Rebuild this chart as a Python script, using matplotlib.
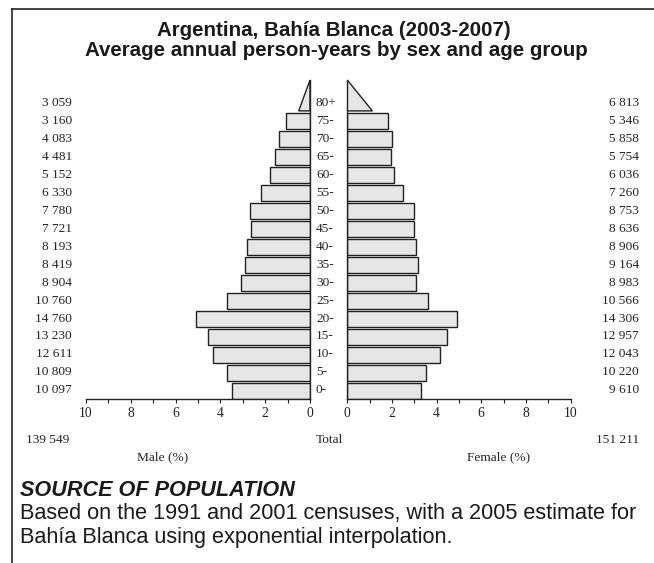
import matplotlib
matplotlib.use("Agg")
import matplotlib.pyplot as plt
import matplotlib.transforms as mtransforms
from matplotlib.patches import Polygon
from matplotlib.lines import Line2D

age_groups = ["0-", "5-", "10-", "15-", "20-", "25-", "30-", "35-", "40-",
              "45-", "50-", "55-", "60-", "65-", "70-", "75-", "80+"]
male = [10097, 10809, 12611, 13230, 14760, 10760, 8904, 8419, 8193,
        7721, 7780, 6330, 5152, 4481, 4083, 3160, 3059]
female = [9610, 10220, 12043, 12957, 14306, 10566, 8983, 9164, 8906,
          8636, 8753, 7260, 6036, 5754, 5858, 5346, 6813]
male_total_label = "139 549"
female_total_label = "151 211"
x_ticks = [0, 2, 4, 6, 8, 10]

total = sum(male) + sum(female)
male_pct = [v / total * 100 for v in male]
female_pct = [v / total * 100 for v in female]

def fmt(v):
    return f"{v:,}".replace(",", " ")

W, H = 654, 563
fig = plt.figure(figsize=(W / 100, H / 100), dpi=100)

serif = "Liberation Serif"
sans = "Liberation Sans"

def fx(px):
    return px / W

def fy(py):
    return 1 - py / H

ax_bottom = fy(398.5)
ax_top = fy(80)
ax_h = ax_top - ax_bottom
axm = fig.add_axes([fx(86), ax_bottom, fx(310) - fx(86), ax_h])
axf = fig.add_axes([fx(347.3), ax_bottom, fx(570.5) - fx(347.3), ax_h])

bar_h = 0.87
tri_h = 1.72
tri_scale = 0.48
face = "#e6e6e6"
edge = "#222222"
n = len(age_groups)
ytop = (n - 1) + tri_h

for ax, vals, inv in ((axm, male_pct, True), (axf, female_pct, False)):
    for i, v in enumerate(vals):
        if i < n - 1:
            ax.barh(i, v, height=bar_h, align="edge", color=face,
                    edgecolor=edge, linewidth=1.0, zorder=2)
        else:
            b = v * tri_scale
            ax.add_patch(Polygon([(0, i), (b, i), (0, i + tri_h)], closed=True,
                                 facecolor=face, edgecolor=edge, linewidth=1.0,
                                 zorder=2))
    ax.set_ylim(0, ytop)
    if inv:
        ax.set_xlim(10, 0)
        ax.spines["left"].set_visible(False)
    else:
        ax.set_xlim(0, 10)
        ax.spines["right"].set_visible(False)
    ax.spines["top"].set_visible(False)
    for s in ax.spines.values():
        s.set_linewidth(1.0)
        s.set_color("#222222")
    ax.set_yticks([])
    ax.set_xticks(x_ticks)
    ax.set_xticks([1, 3, 5, 7, 9], minor=True)
    ax.tick_params(axis="x", which="both", direction="out", length=3,
                   width=0.8, color="#222222", pad=3)
    ax.set_xticklabels([str(t) for t in x_ticks], fontfamily=serif,
                       fontsize=9.8, color="#222222")
    ax.patch.set_alpha(0)

trm = mtransforms.blended_transform_factory(fig.transFigure, axm.transData)
for i in range(n):
    yc = i + 0.45
    fig.text(fx(72), yc, fmt(male[i]), transform=trm, ha="right", va="center",
             fontfamily=serif, fontsize=9.6, color="#222222")
    fig.text(fx(639), yc, fmt(female[i]), transform=trm, ha="right",
             va="center", fontfamily=serif, fontsize=9.6, color="#222222")
    fig.text(fx(316), yc, age_groups[i], transform=trm, ha="left",
             va="center", fontfamily=serif, fontsize=9.6, color="#222222")

fig.text(fx(26), fy(440), male_total_label, ha="left", va="center",
         fontfamily=serif, fontsize=9.6, color="#222222")
fig.text(fx(330), fy(440), "Total", ha="center", va="center",
         fontfamily=serif, fontsize=9.6, color="#222222")
fig.text(fx(639), fy(440), female_total_label, ha="right", va="center",
         fontfamily=serif, fontsize=9.6, color="#222222")
fig.text(fx(163), fy(457), "Male (%)", ha="center", va="center",
         fontfamily=serif, fontsize=9.6, color="#222222")
fig.text(fx(499), fy(457), "Female (%)", ha="center", va="center",
         fontfamily=serif, fontsize=9.6, color="#222222")

fig.text(fx(334), fy(30), "Argentina, Bahía Blanca (2003-2007)", ha="center",
         va="baseline", fontfamily=sans, fontweight="bold", fontsize=14.8,
         color="#1a1a1a")
fig.text(fx(336), fy(50), "Average annual person-years by sex and age group",
         ha="center", va="baseline", fontfamily=sans, fontweight="bold",
         fontsize=14.8, color="#1a1a1a")
# note: baselines placed slightly lower for readability
for t in fig.texts[-2:]:
    t.set_y(t.get_position()[1] - 6 / H)

fig.text(fx(20), fy(490), "SOURCE OF POPULATION", ha="left", va="center",
         fontfamily=sans, fontweight="bold", fontstyle="italic", fontsize=15.6,
         color="#1a1a1a")
fig.text(fx(20), fy(514),
         "Based on the 1991 and 2001 censuses, with a 2005 estimate for",
         ha="left", va="center", fontfamily=sans, fontsize=15.6, color="#1a1a1a")
fig.text(fx(20), fy(538), "Bahía Blanca using exponential interpolation.",
         ha="left", va="center", fontfamily=sans, fontsize=15.6, color="#1a1a1a")

fig.add_artist(Line2D([fx(11.5), 1], [fy(9), fy(9)], transform=fig.transFigure,
                      color="#222222", linewidth=1.2))
fig.add_artist(Line2D([fx(12), fx(12)], [fy(9), 0], transform=fig.transFigure,
                      color="#222222", linewidth=1.2))

fig.savefig("out.png", dpi=100)
